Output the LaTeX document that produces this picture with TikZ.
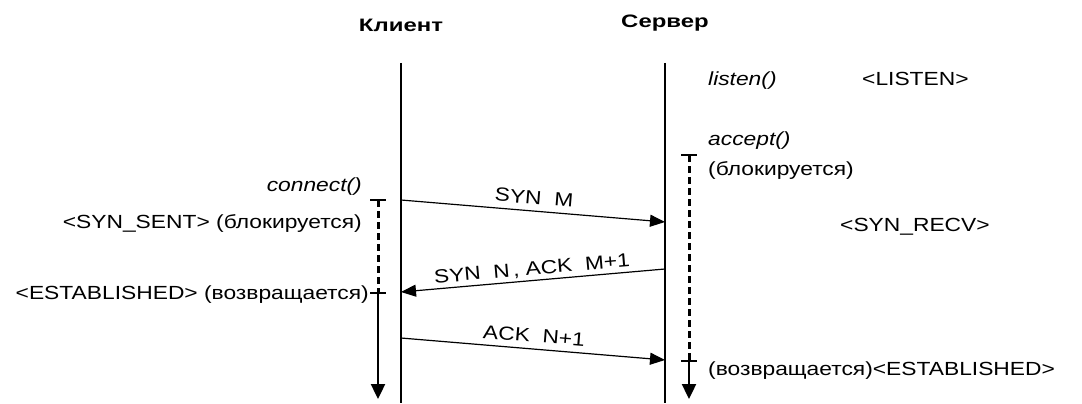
\documentclass[tikz,border=0pt]{standalone}
\usepackage{fontspec}
\setmainfont{Liberation Sans}[FakeStretch=1.2]
\newfontfamily\titlefont{Liberation Sans}[FakeStretch=1.33]
\usetikzlibrary{arrows.meta}
\begin{document}
\begin{tikzpicture}[x=1pt,y=-1pt,
  every node/.style={font=\fontsize{19}{23}\selectfont, inner sep=0pt},
  title/.style={font=\titlefont\fontsize{18}{21}\selectfont\bfseries, anchor=base},
  lbl/.style={anchor=base west},
  rlbl/.style={anchor=base east},
  lifeline/.style={line width=1.6pt},
  msg/.style={line width=1.2pt,-{Triangle[length=15pt,width=12pt]}},
  waitline/.style={line width=3pt, dash pattern=on 7pt off 4pt},
  runline/.style={line width=2.4pt,-{Triangle[length=15pt,width=14pt]}},
  tickmark/.style={line width=2.2pt},
  msglbl/.style={midway, sloped}
]
\useasboundingbox (0,0) rectangle (1082,404);

% titles
\node[title] (tc) at (401,32) {Клиент};
\node[title] (ts) at (665,28) {Сервер};

% lifelines
\coordinate (c0) at (401,63);
\coordinate (c1) at (401,403);
\coordinate (s0) at (665,63);
\coordinate (s1) at (665,403);
\draw[lifeline] (c0) -- (c1);
\draw[lifeline] (s0) -- (s1);

% message endpoints
\coordinate (m1a) at (401,200);
\coordinate (m1b) at (665,222);
\coordinate (m2a) at (665,269);
\coordinate (m2b) at (401,292);
\coordinate (m3a) at (401,338);
\coordinate (m3b) at (665,360);

\draw[msg] (m1a) -- node[msglbl, above=6pt] (l1) {SYN\ \ M} (m1b);
\draw[msg] (m2a) -- (m2b);
\path (m2b) -- node[msglbl, above=3pt] (l2) {SYN\ \ N\,, ACK\ \ M+1} (m2a);
\draw[msg] (m3a) -- node[msglbl, above=6pt] (l3) {ACK\ \ N+1} (m3b);

% client timeline
\coordinate (ct0) at (378,200);
\coordinate (ct1) at (378,293);
\coordinate (ct2) at (378,399);
\draw[tickmark] ([xshift=-8pt]ct0) -- ([xshift=8pt]ct0);
\draw[waitline] (ct0) -- (ct1);
\draw[tickmark] ([xshift=-8pt]ct1) -- ([xshift=8pt]ct1);
\draw[runline] (ct1) -- (ct2);

% server timeline
\coordinate (st0) at (689,155);
\coordinate (st1) at (689,361);
\coordinate (st2) at (689,399);
\draw[tickmark] ([xshift=-8pt]st0) -- ([xshift=8pt]st0);
\draw[waitline] (st0) -- (st1);
\draw[tickmark] ([xshift=-8pt]st1) -- ([xshift=8pt]st1);
\draw[runline] (st1) -- (st2);

% client texts
\node[rlbl] (connect) at (362,191) {\itshape connect()};
\node[rlbl] (synsent) at (362,228) {<SYN\_SENT> (блокируется)};
\node[rlbl] (cest) at (369,299) {<ESTABLISHED> (возвращается)};

% server texts
\node[lbl] (listen) at (708,85) {\itshape listen()};
\node[lbl] (slisten) at (862,85) {<LISTEN>};
\node[lbl] (accept) at (708,145) {\itshape accept()};
\node[lbl] (sblock) at (708,175) {(блокируется)};
\node[lbl] (synrecv) at (840,231) {<SYN\_RECV>};
\node[lbl] (sest) at (708,375) {(возвращается)<ESTABLISHED>};
\end{tikzpicture}
\end{document}
